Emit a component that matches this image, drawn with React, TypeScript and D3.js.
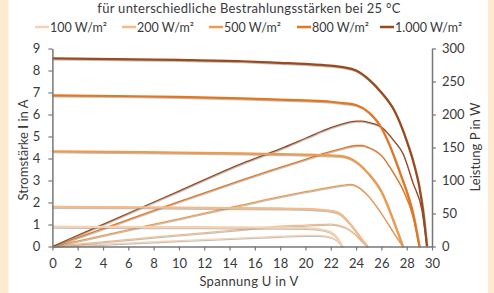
import { useRef, useEffect } from 'react';
import { select, scaleLinear, line, curveMonotoneX, axisLeft, axisRight, axisBottom } from 'd3';

// Legend labels, one per irradiance
const LEVELS = ['100 W/m²', '200 W/m²', '500 W/m²', '800 W/m²', '1.000 W/m²'];
const COLORS = ['#F8D2B0', '#F4BB88', '#EF9A4B', '#E5761F', '#9A4A1E'];

// Current curves (voltage in V, current in A)
const voltI100 = [0, 5, 10, 15, 18, 20, 21, 22, 22.5, 22.9];
const ampI100 = [0.9, 0.89, 0.88, 0.87, 0.86, 0.84, 0.8, 0.65, 0.4, 0];
const voltI200 = [0, 5, 10, 15, 18, 20, 21, 22, 22.7, 23.5, 24.3, 24.9];
const ampI200 = [1.8, 1.79, 1.77, 1.74, 1.73, 1.71, 1.68, 1.62, 1.5, 1.05, 0.45, 0];
const voltI500 = [0, 5, 10, 15, 18, 20, 22, 23, 24, 25, 26, 27, 27.7];
const ampI500 = [4.33, 4.3, 4.27, 4.23, 4.2, 4.18, 4.14, 4.1, 3.85, 3.3, 2.5, 1.1, 0];
const voltI800 = [0, 5, 10, 15, 18, 20, 22, 23, 24, 25, 26, 27, 27.5, 28, 28.5, 29];
const ampI800 = [6.87, 6.84, 6.8, 6.73, 6.68, 6.64, 6.58, 6.52, 6.43, 6.1, 5.4, 4.1, 3.3, 2.5, 1.5, 0];
const voltI1000 = [0, 5, 10, 15, 18, 20, 22, 23, 24, 25, 26, 27, 28, 28.5, 29, 29.3, 29.6];
const ampI1000 = [8.55, 8.52, 8.48, 8.42, 8.35, 8.3, 8.22, 8.15, 8.0, 7.6, 7.0, 6.2, 4.8, 3.9, 2.7, 1.6, 0];

// Power curves (voltage in V, power in W)
const voltP100 = [0, 5, 10, 15, 18, 20, 21, 22, 22.5, 22.9];
const wattP100 = [0, 4.5, 8.8, 13, 15.5, 16.8, 16.8, 14.3, 9, 0];
const voltP200 = [0, 5, 10, 15, 18, 20, 22, 23, 23.5, 24, 24.5, 24.9];
const wattP200 = [0, 9, 17.5, 26, 31, 32.5, 34, 30, 25, 17, 7, 0];
const voltP500 = [0, 5, 10, 15, 18, 20, 22, 23, 23.5, 24, 25, 26, 27, 27.7];
const wattP500 = [0, 21, 42, 63, 75.5, 83, 90, 93, 94, 92, 76, 50, 20, 0];
const voltP800 = [0, 5, 10, 15, 18, 20, 22, 23, 24, 24.5, 25, 26, 27, 27.7, 28.5, 29];
const wattP800 = [0, 34, 68, 101, 120, 132, 144, 149, 153, 153, 150, 138, 110, 86, 45, 0];
const voltP1000 = [0, 5, 10, 15, 18, 20, 22, 23, 24, 24.5, 25, 26, 27, 27.7, 28.5, 29.2, 29.6];
const wattP1000 = [0, 42, 84, 126, 148, 164, 180, 186, 190, 190, 188, 181, 160, 141, 96, 55, 0];

const X_TICKS = [0, 2, 4, 6, 8, 10, 12, 14, 16, 18, 20, 22, 24, 26, 28, 30];
const I_TICKS = [0, 1, 2, 3, 4, 5, 6, 7, 8, 9];
const P_TICKS = [0, 50, 100, 150, 200, 250, 300];

const currentSeries = [
    [voltI100, ampI100],
    [voltI200, ampI200],
    [voltI500, ampI500],
    [voltI800, ampI800],
    [voltI1000, ampI1000],
];
const powerSeries = [
    [voltP100, wattP100],
    [voltP200, wattP200],
    [voltP500, wattP500],
    [voltP800, wattP800],
    [voltP1000, wattP1000],
];

const FONT = 'Lato, sans-serif';
const TEXT = '#3a3a3a';

function App() {
    const xAxisRef = useRef<SVGGElement | null>(null);
    const yAxisRef = useRef<SVGGElement | null>(null);
    const pAxisRef = useRef<SVGGElement | null>(null);

    // Set dimensions
    const width = 494;
    const height = 293;
    const left = 52.4;
    const right = 432;
    const top = 48.5;
    const bottom = 246.5;

    // Set scales
    const x = scaleLinear().domain([0, 30]).range([left, right]);
    const yI = scaleLinear().domain([0, 9]).range([bottom, top]);
    const yP = scaleLinear().domain([0, 300]).range([bottom, top]);

    const pathFor = (vs: number[], vals: number[], scale: any) =>
        line<number>()
            .x((d) => x(d))
            .y((d, i) => scale(vals[i]))
            .curve(curveMonotoneX)(vs) as string;

    useEffect(() => {
        const style = (g: any) => {
            g.select('.domain').attr('stroke', '#777').attr('stroke-width', 1.5);
            g.selectAll('.tick line').attr('stroke', '#777').attr('stroke-width', 1.2);
            g.selectAll('.tick text')
                .attr('fill', TEXT)
                .style('font-family', FONT)
                .style('font-size', '13px');
        };
        select(xAxisRef.current)
            .call(axisBottom(x).tickValues(X_TICKS).tickSize(4).tickPadding(8).tickSizeOuter(0) as any)
            .call(style);
        select(yAxisRef.current)
            .call(axisLeft(yI).tickValues(I_TICKS).tickSize(4).tickPadding(8).tickSizeOuter(0) as any)
            .call(style);
        select(pAxisRef.current)
            .call(axisRight(yP).tickValues(P_TICKS).tickSize(4).tickPadding(6).tickSizeOuter(0) as any)
            .call(style);
    }, []);

    const legendX = [35, 122, 209, 297, 380];

    return (
        <svg
            width={width}
            height={height}
            style={{ position: 'absolute', left: 0, top: 0 }}
            fontFamily={FONT}
        >
            <rect width={width} height={height} fill="#FDEAD1" />
            <rect x={8.5} width={479.5} height={height} fill="#fff" />

            <text x={249} y={13} textAnchor="middle" fontSize={13} letterSpacing={0.3} fill={TEXT}>
                für unterschiedliche Bestrahlungsstärken bei 25 °C
            </text>

            {/* Legend */}
            {LEVELS.map((lab, i) => (
                <g key={lab} transform={`translate(${legendX[i]}, 27)`}>
                    <line x1={0} x2={14} stroke={COLORS[i]} strokeWidth={2.5} />
                    <text x={15} y={4.5} fontSize={12.5} fill={TEXT}>
                        {lab}
                    </text>
                </g>
            ))}

            {/* Power curves (thin) */}
            {powerSeries.map(([vs, ps], i) => (
                <g key={'p' + i}>
                    <path d={pathFor(vs, ps, yP)} fill="none" stroke="#8a8a8a" strokeOpacity={0.55}
                        strokeWidth={1.3} transform="translate(0.6, 1)" />
                    <path d={pathFor(vs, ps, yP)} fill="none" stroke={COLORS[i]} strokeWidth={1.3} />
                </g>
            ))}

            {/* Current curves (thick) */}
            {currentSeries.map(([vs, is], i) => (
                <g key={'i' + i}>
                    <path d={pathFor(vs, is, yI)} fill="none" stroke="#8a8a8a" strokeOpacity={0.55}
                        strokeWidth={2.2} transform="translate(0.6, 1)" />
                    <path d={pathFor(vs, is, yI)} fill="none" stroke={COLORS[i]} strokeWidth={2.2} />
                </g>
            ))}

            <g ref={xAxisRef} transform={`translate(0, ${bottom})`} />
            <g ref={yAxisRef} transform={`translate(${left}, 0)`} />
            <g ref={pAxisRef} transform={`translate(${right}, 0)`} />

            <text x={249} y={286} textAnchor="middle" fontSize={13} letterSpacing={0.3} fill={TEXT}>
                Spannung U in V
            </text>
            <text transform="translate(28, 150) rotate(-90)" textAnchor="middle" fontSize={13} fill={TEXT}>
                Stromstärke <tspan fontWeight="bold">I</tspan> in A
            </text>
            <text transform="translate(480, 147) rotate(-90)" textAnchor="middle" fontSize={13} fill={TEXT}>
                Leistung P in W
            </text>
        </svg>
    );
}

export default App;
